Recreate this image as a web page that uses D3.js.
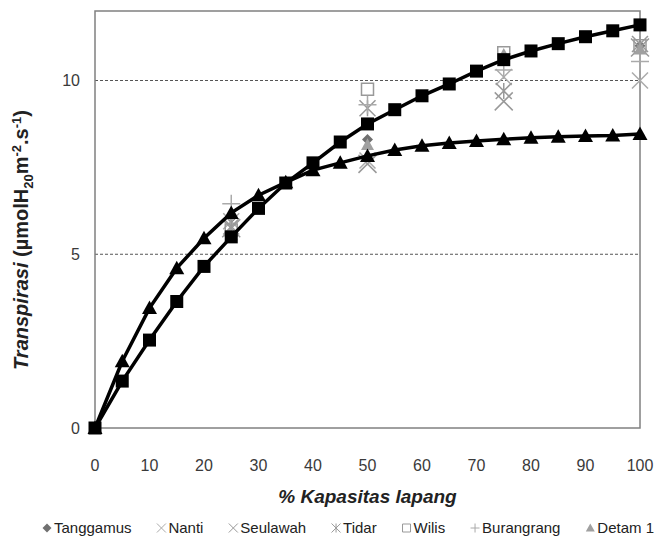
<!DOCTYPE html>
<meta charset="utf-8">
<script src="https://d3js.org/d3.v7.min.js"></script>
<style>
  body { margin: 0; background: #fff; }
  text { font-family: "Liberation Sans", Arial, sans-serif; }
</style>
<div id="chart"></div>
<script>
// fitted curves (every 5 %)
var xCurve = [0,5,10,15,20,25,30,35,40,45,50,55,60,65,70,75,80,85,90,95,100];
var squareCurve = [0,1.35,2.53,3.64,4.65,5.5,6.32,7.05,7.63,8.23,8.75,9.16,9.56,9.9,10.27,10.6,10.85,11.06,11.26,11.43,11.6];
var triangleCurve = [0,1.92,3.45,4.6,5.46,6.19,6.7,7.07,7.42,7.63,7.83,8.0,8.12,8.2,8.26,8.31,8.35,8.38,8.4,8.42,8.46];

// observed values per variety
var xObs = [0,25,50,75,100];
var tanggamus  = [0,6.05,8.3,10.65,11.0];
var nanti      = [0,5.95,7.7,10.1,10.0];
var seulawah   = [0,5.75,7.6,9.4,10.95];
var tidar      = [0,5.8,9.2,9.7,11.05];
var wilis      = [0,5.7,9.75,10.8,11.0];
var burangrang = [0,6.45,9.3,10.3,10.55];
var detam1     = [0,5.55,8.15,10.75,10.9];

var xTicks = [0,10,20,30,40,50,60,70,80,90,100];
var yTicks = [0,5,10];

var width = 657, height = 540;
var svg = d3.select("#chart").append("svg")
  .attr("width", width).attr("height", height);

var x = d3.scaleLinear().domain([0,100]).range([95,640]);
var y = d3.scaleLinear().domain([0,12]).range([428,11]);

// dashed gridlines
svg.selectAll(".grid").data([5,10]).enter().append("line")
  .attr("x1", x(0)).attr("x2", x(100))
  .attr("y1", function(d){ return y(d); }).attr("y2", function(d){ return y(d); })
  .attr("stroke", "#555").attr("stroke-width", 1).attr("stroke-dasharray", "3,2");

// plot frame
svg.append("rect")
  .attr("x", x(0)).attr("y", y(12))
  .attr("width", x(100)-x(0)).attr("height", y(0)-y(12))
  .attr("fill", "none").attr("stroke", "#808080").attr("stroke-width", 1.5);

// tick labels
svg.selectAll(".yl").data(yTicks).enter().append("text")
  .attr("x", 80).attr("y", function(d){ return y(d); }).attr("dy", "0.35em")
  .attr("text-anchor", "end").attr("font-size", 16).attr("fill", "#3a3a3a")
  .text(function(d){ return d; });
svg.selectAll(".xl").data(xTicks).enter().append("text")
  .attr("x", function(d){ return x(d); }).attr("y", 471)
  .attr("text-anchor", "middle").attr("font-size", 16).attr("fill", "#3a3a3a")
  .text(function(d){ return d; });

// axis titles
svg.append("text")
  .attr("x", (x(0)+x(100))/2).attr("y", 503)
  .attr("text-anchor", "middle").attr("font-size", 19)
  .attr("font-weight", "bold").attr("font-style", "italic").attr("fill", "#222")
  .text("% Kapasitas lapang");

var yt = svg.append("text")
  .attr("transform", "translate(28,240) rotate(-90)")
  .attr("text-anchor", "middle").attr("font-size", 20)
  .attr("font-weight", "bold").attr("fill", "#222");
yt.append("tspan").attr("font-style", "italic").text("Transpirasi");
yt.append("tspan").text(" (\u00b5molH");
yt.append("tspan").attr("font-size", 13).attr("dy", 5).text("20");
yt.append("tspan").attr("dy", -5).text("m");
yt.append("tspan").attr("font-size", 13).attr("dy", -7).text("-2");
yt.append("tspan").attr("dy", 7).text(".s");
yt.append("tspan").attr("font-size", 13).attr("dy", -7).text("-1");
yt.append("tspan").attr("dy", 7).text(")");

// marker path generators
function markerPath(type, s) {
  var h = s/2;
  if (type == "diamond") return "M0," + (-h) + "L" + h + ",0L0," + h + "L" + (-h) + ",0Z";
  if (type == "cross") return "M" + (-h) + "," + (-h) + "L" + h + "," + h + "M" + (-h) + "," + h + "L" + h + "," + (-h);
  if (type == "plus") return "M" + (-h) + ",0L" + h + ",0M0," + (-h) + "L0," + h;
  if (type == "star") return "M" + (-h) + "," + (-h) + "L" + h + "," + h + "M" + (-h) + "," + h + "L" + h + "," + (-h) + "M0," + (-h) + "L0," + h;
  if (type == "square") return "M" + (-h) + "," + (-h) + "H" + h + "V" + h + "H" + (-h) + "Z";
  if (type == "triangle") return "M0," + (-h) + "L" + h + "," + (h*0.8) + "L" + (-h) + "," + (h*0.8) + "Z";
}

var varieties = [
  {name: "Tanggamus", vals: tanggamus, type: "diamond", fill: "#707070", stroke: "none", size: 11},
  {name: "Nanti", vals: nanti, type: "cross", fill: "none", stroke: "#aaa", size: 16},
  {name: "Seulawah", vals: seulawah, type: "cross", fill: "none", stroke: "#999", size: 18},
  {name: "Tidar", vals: tidar, type: "star", fill: "none", stroke: "#999", size: 16},
  {name: "Wilis", vals: wilis, type: "square", fill: "none", stroke: "#999", size: 12},
  {name: "Burangrang", vals: burangrang, type: "plus", fill: "none", stroke: "#aaa", size: 18},
  {name: "Detam 1", vals: detam1, type: "triangle", fill: "#a0a0a0", stroke: "none", size: 13}
];

// fitted curves
var line = d3.line().x(function(d){ return x(d[0]); }).y(function(d){ return y(d[1]); });
var curves = [
  {vals: squareCurve, type: "square", size: 13},
  {vals: triangleCurve, type: "triangle", size: 15}
];

// observed points underneath curves
varieties.forEach(function(v) {
  svg.selectAll(null).data(d3.zip(xObs, v.vals).slice(1)).enter().append("path")
    .attr("transform", function(d){ return "translate(" + x(d[0]) + "," + y(d[1]) + ")"; })
    .attr("d", markerPath(v.type, v.size))
    .attr("fill", v.fill).attr("stroke", v.stroke).attr("stroke-width", 1.5);
});

curves.forEach(function(c) {
  var pts = d3.zip(xCurve, c.vals);
  svg.append("path").datum(pts).attr("d", line)
    .attr("fill", "none").attr("stroke", "#000").attr("stroke-width", 3.5);
  svg.selectAll(null).data(pts).enter().append("path")
    .attr("transform", function(d){ return "translate(" + x(d[0]) + "," + y(d[1]) + ")"; })
    .attr("d", markerPath(c.type, c.size))
    .attr("fill", "#000");
});

// legend, spread between 42 and 654
var leg = svg.append("g").attr("transform", "translate(0,528)");
var items = varieties.map(function(v) {
  var g = leg.append("g");
  g.append("path").attr("d", markerPath(v.type, v.type == "square" ? 8 : 9))
    .attr("fill", v.fill).attr("stroke", v.stroke).attr("stroke-width", 1);
  var t = g.append("text").attr("x", 7).attr("dy", "0.35em")
    .attr("font-size", 15).attr("fill", "#222").text(v.name);
  return {g: g, w: 7 + t.node().getComputedTextLength()};
});
var total = d3.sum(items, function(d){ return d.w; });
var gap = (654 - 42 - 5 - total) / (items.length - 1);
var lx = 47;
items.forEach(function(it) {
  it.g.attr("transform", "translate(" + lx + ",0)");
  lx += it.w + gap;
});
</script>
